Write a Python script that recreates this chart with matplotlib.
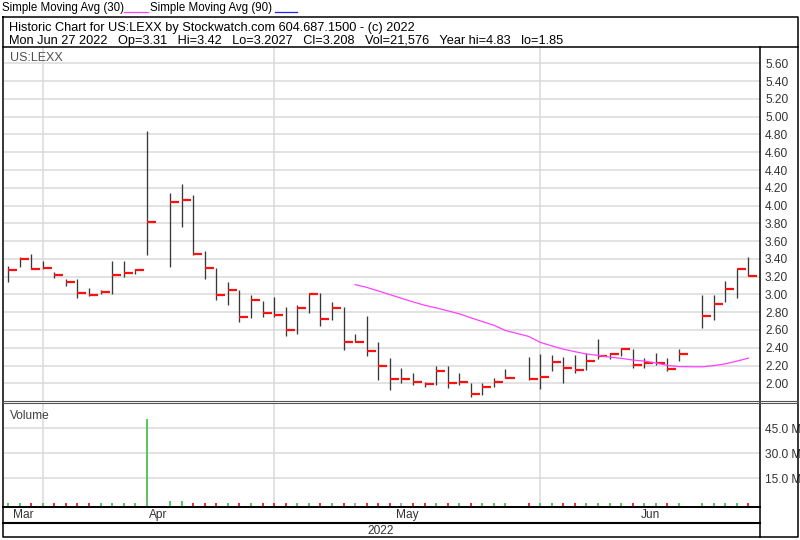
import numpy as np
import pandas as pd
import matplotlib
matplotlib.use('Agg')
import matplotlib.pyplot as plt

plt.rcParams['font.family'] = ['Liberation Sans', 'DejaVu Sans']

# trading calendar (weekday slots, holidays left empty)
weekdays = pd.bdate_range('2022-03-29', '2022-06-27')
holidays = pd.to_datetime(['2022-04-15', '2022-05-30', '2022-06-20'])
trade_days = weekdays[~weekdays.isin(holidays)]

highs = [3.32, 3.42, 3.46, 3.38, 3.25, 3.17, 3.17, 3.07, 3.05, 3.38,
         3.38, 3.29, 4.835, 4.14, 4.24, 4.12, 3.49, 3.30, 3.14, 3.05,
         2.99, 2.93, 2.975, 2.855, 2.88, 3.01, 3.02, 2.91, 2.855, 2.56,
         2.76, 2.465, 2.29, 2.17, 2.12, 2.02, 2.19, 2.19, 2.113, 2.00,
         2.00, 2.057, 2.156, 2.30, 2.33, 2.32, 2.30, 2.32, 2.34, 2.495,
         2.34, 2.394, 2.39, 2.28, 2.34, 2.28, 2.39, 2.994, 2.994, 3.15,
         3.29, 3.42]
lows = [3.14, 3.31, 3.29, 3.29, 3.19, 3.10, 2.96, 2.98, 3.00, 3.00,
        3.20, 3.23, 3.444, 3.31, 3.755, 3.44, 3.17, 2.94, 2.88, 2.69,
        2.74, 2.75, 2.75, 2.53, 2.55, 2.795, 2.64, 2.71, 2.375, 2.46,
        2.31, 2.04, 1.925, 2.00, 1.98, 1.96, 1.98, 1.944, 1.98, 1.85,
        1.87, 1.955, 2.057, 2.04, 1.937, 2.143, 2.00, 2.113, 2.15, 2.27,
        2.27, 2.31, 2.17, 2.17, 2.207, 2.144, 2.25, 2.62, 2.713, 2.92,
        2.956, 3.2027]
closes = [3.28, 3.40, 3.29, 3.30, 3.215, 3.14, 3.02, 2.99, 3.03, 3.215,
          3.24, 3.27, 3.82, 4.044, 4.06, 3.45, 3.294, 2.99, 3.05, 2.743,
          2.94, 2.795, 2.77, 2.60, 2.85, 3.00, 2.72, 2.85, 2.47, 2.47,
          2.364, 2.195, 2.05, 2.05, 2.02, 1.99, 2.143, 2.00, 2.01, 1.88,
          1.963, 2.01, 2.06, 2.045, 2.068, 2.244, 2.177, 2.155, 2.25, 2.31,
          2.33, 2.386, 2.207, 2.225, 2.233, 2.157, 2.33, 2.76, 2.89, 3.06,
          3.285, 3.208]
volumes = [0.25e6, 0.30e6, 0.20e6, 0.20e6, 0.15e6, 0.15e6, 0.20e6, 0.15e6, 0.10e6, 0.30e6,
           0.20e6, 0.15e6, 50.6e6, 1.1e6, 1.3e6, 0.40e6, 0.30e6, 0.30e6, 0.25e6, 0.30e6,
           0.20e6, 0.20e6, 0.15e6, 0.20e6, 0.15e6, 0.20e6, 0.15e6, 0.10e6, 0.20e6, 0.10e6,
           0.15e6, 0.20e6, 0.15e6, 0.10e6, 0.10e6, 0.10e6, 0.15e6, 0.10e6, 0.10e6, 0.20e6,
           0.10e6, 0.10e6, 0.10e6, 0.10e6, 0.15e6, 0.15e6, 0.10e6, 0.10e6, 0.10e6, 0.20e6,
           0.10e6, 0.10e6, 0.10e6, 0.05e6, 0.05e6, 0.05e6, 0.10e6, 0.30e6, 0.20e6, 0.15e6,
           0.15e6, 0.021576e6]

price_ticks = np.round(np.arange(2.0, 5.61, 0.2), 2)
vol_ticks = [15e6, 30e6, 45e6]
month_lines = pd.to_datetime(['2022-04-01', '2022-04-29', '2022-06-01'])
month_names = ['Mar', 'Apr', 'May', 'Jun']

header1 = 'Historic Chart for US:LEXX by Stockwatch.com 604.687.1500 - (c) 2022'
header2 = 'Mon Jun 27 2022   Op=3.31   Hi=3.42   Lo=3.2027   Cl=3.208   Vol=21,576   Year hi=4.83   lo=1.85'

slot = weekdays.get_indexer(trade_days)
grid_slots = weekdays.get_indexer(month_lines)
sma30 = pd.Series(closes).rolling(30).mean()
diff = np.diff(np.r_[closes[0] - 1, closes])
vcolors = np.where(diff > 0, '#4cc24c', np.where(diff < 0, '#e02020', '#a0a0a0'))

W, H = 800, 540
XL = (-0.35, 65.0)
GRID = '#dadada'
FS = 8.6


def box(x0, y0, x1, y1):
    return [x0 / W, 1 - y1 / H, (x1 - x0) / W, (y1 - y0) / H]


def clean(ax):
    ax.set_xticks([])
    ax.set_yticks([])
    for s in ax.spines.values():
        s.set_visible(False)


fig = plt.figure(figsize=(8, 5.4), dpi=100)

# price panel
ax_p = fig.add_axes(box(4, 47, 760, 401))
clean(ax_p)
ax_p.set_xlim(*XL)
ax_p.set_ylim(1.801, 5.784)
ax_p.hlines(price_ticks, *XL, color=GRID, lw=1.1, zorder=0)
ax_p.vlines(grid_slots, 1.801, 5.784, color=GRID, lw=1.1, zorder=0)
ax_p.vlines(slot, lows, highs, color='#383838', lw=0.95, zorder=2)
ax_p.hlines(closes, slot, slot + 0.78, color='#ff1010', lw=1.6, zorder=3)
ax_p.plot(slot, sma30, color='#ff40ff', lw=0.9, zorder=4)
ax_p.yaxis.tick_right()
ax_p.set_yticks(price_ticks)
ax_p.set_yticklabels([f'{t:.2f}' for t in price_ticks])
ax_p.tick_params(axis='y', length=0, pad=3.6, labelsize=FS, labelcolor='#333333')
ax_p.text(0.008, 0.985, 'US:LEXX', transform=ax_p.transAxes, ha='left', va='top',
          fontsize=9, color='#505050')

# volume panel
vb, vt = -1.62e6, 60.18e6
ax_v = fig.add_axes(box(4, 403, 760, 506))
clean(ax_v)
ax_v.set_xlim(*XL)
ax_v.set_ylim(vb, vt)
ax_v.hlines(vol_ticks, *XL, color=GRID, lw=1.1, zorder=0)
ax_v.vlines(grid_slots, vb, vt, color=GRID, lw=1.1, zorder=0)
ax_v.vlines(slot, vb, volumes, colors=vcolors, lw=1.3, zorder=2)
ax_v.yaxis.tick_right()
ax_v.set_yticks(vol_ticks)
ax_v.set_yticklabels([f'{v / 1e6:.1f} M' for v in vol_ticks])
ax_v.tick_params(axis='y', length=0, pad=3.6, labelsize=FS, labelcolor='#333333')
ax_v.text(0.008, 0.93, 'Volume', transform=ax_v.transAxes, ha='left', va='top',
          fontsize=FS, color='#404040')

# month band
ax_x = fig.add_axes(box(4, 507, 760, 522))
clean(ax_x)
ax_x.set_xlim(*XL)
ax_x.set_ylim(0, 1)
edges = np.r_[XL[0], grid_slots, XL[1]]
for c, name in zip((edges[:-1] + edges[1:]) / 2, month_names):
    ax_x.text(c, 0.45, name, ha='center', va='center', fontsize=FS, color='#333333')

# frame, header and legend in pixel coordinates
ax_f = fig.add_axes([0, 0, 1, 1], zorder=10)
ax_f.set_xlim(0, W)
ax_f.set_ylim(H, 0)
ax_f.axis('off')
ax_f.patch.set_alpha(0)
lk = dict(color='black', lw=1.1, solid_capstyle='projecting')
ax_f.plot([3, 798, 798, 3, 3], [17, 17, 537, 537, 17], **lk)
ax_f.plot([3, 798], [47, 47], **lk)
ax_f.plot([760, 760], [47, 537], **lk)
ax_f.plot([3, 798], [400.5, 400.5], color='#555555', lw=0.8)
ax_f.plot([3, 798], [403.2, 403.2], color='#555555', lw=0.8)
ax_f.plot([3, 760], [507, 507], color='black', lw=1.4)
ax_f.plot([3, 760], [523, 523], color='black', lw=1.5)

ax_f.text(9, 30.7, header1, fontsize=9.2, va='baseline', ha='left')
ax_f.text(9, 44, header2, fontsize=9.2, va='baseline', ha='left')
ax_f.text(381, 534, '2022', fontsize=FS, va='baseline', ha='center', color='#333333')

ax_f.text(2, 10.8, 'Simple Moving Avg (30)', fontsize=8.3, va='baseline', ha='left')
ax_f.plot([124, 148], [11.5, 11.5], color='#ff40ff', lw=0.9)
ax_f.text(150, 10.8, 'Simple Moving Avg (90)', fontsize=8.3, va='baseline', ha='left')
ax_f.plot([275, 297], [11.5, 11.5], color='#2020ff', lw=0.9)

fig.savefig('out.png', dpi=100, facecolor='white')
